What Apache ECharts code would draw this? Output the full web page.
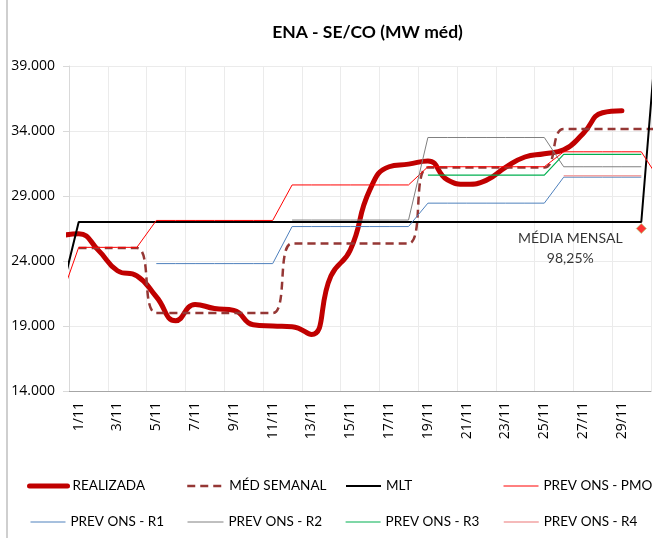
<!DOCTYPE html>
<html>
<head>
<meta charset="utf-8">
<script src="https://cdn.jsdelivr.net/npm/echarts@6/dist/echarts.min.js"></script>
<style>
  html, body { margin: 0; padding: 0; background: #fff; }
  #chart { width: 662px; height: 538px; }
</style>
</head>
<body>
<div id="chart"></div>
<script>
// Category labels (days of November)
const days = ['1/11','2/11','3/11','4/11','5/11','6/11','7/11','8/11','9/11','10/11',
              '11/11','12/11','13/11','14/11','15/11','16/11','17/11','18/11','19/11','20/11',
              '21/11','22/11','23/11','24/11','25/11','26/11','27/11','28/11','29/11','30/11'];

// Series values indexed by day 0 (31/10) .. day 31 (1/12); null = no value
const realizada = [25900, 26100, 24850, 23250, 22850, 21250, 19400, 20650, 20350, 20200,
                   19100, 19000, 18950, 18350, 22850, 24850, 29450, 31250, 31450, 31700,
                   30250, 29900, 30200, 31200, 32000, 32250, 32550, 33800, 35400, 35550,
                   null, null];
const medSemanal = [null, 25000, 25000, 25000, 25000, 20000, 20000, 20000, 20000, 20000,
                    20000, 20000, 25350, 25350, 25350, 25350, 25350, 25350, 25350, 31200,
                    31200, 31200, 31200, 31200, 31200, 31200, 34150, 34150, 34150, 34150,
                    34150, 34150];
const mlt = [20900, 27000, 27000, 27000, 27000, 27000, 27000, 27000, 27000, 27000,
             27000, 27000, 27000, 27000, 27000, 27000, 27000, 27000, 27000, 27000,
             27000, 27000, 27000, 27000, 27000, 27000, 27000, 27000, 27000, 27000,
             27000, 45300];
const prevPMO = [20800, 25050, 25050, 25050, 25050, 27120, 27120, 27120, 27120, 27120,
                 27120, 27120, 29850, 29850, 29850, 29850, 29850, 29850, 29850, 31250,
                 31250, 31250, 31250, 31250, 31250, 31250, 32400, 32400, 32400, 32400,
                 32400, 30100];
const prevR1 = [null, null, null, null, null, 23800, 23800, 23800, 23800, 23800,
                23800, 23800, 26650, 26650, 26650, 26650, 26650, 26650, 26650, 28450,
                28450, 28450, 28450, 28450, 28450, 28450, 30450, 30450, 30450, 30450,
                30450, null];
const prevR2 = [null, null, null, null, null, null, null, null, null, null,
                null, null, 27150, 27150, 27150, 27150, 27150, 27150, 27150, 33500,
                33500, 33500, 33500, 33500, 33500, 33500, 31250, 31250, 31250, 31250,
                31250, null];
const prevR3 = [null, null, null, null, null, null, null, null, null, null,
                null, null, null, null, null, null, null, null, null, 30600,
                30600, 30600, 30600, 30600, 30600, 30600, 32200, 32200, 32200, 32200,
                32200, null];
const prevR4 = [null, null, null, null, null, null, null, null, null, null,
                null, null, null, null, null, null, null, null, null, null,
                null, null, null, null, null, null, 30550, 30550, 30550, 30550,
                30550, null];

// Monthly average marker
const mediaDay = 30;
const mediaValue = 26500;
const mediaText = 'MÉDIA MENSAL\n98,25%';

const FONT = 'Lato, "Open Sans", sans-serif';
const AXFONT = '"Open Sans", Lato, sans-serif';

function toPairs(arr) {
  const out = [];
  arr.forEach((v, i) => { if (v !== null) out.push([i, v]); });
  return out;
}

const chart = echarts.init(document.getElementById('chart'), null, { renderer: 'canvas' });

function lineSeries(name, arr, color, width, extra) {
  return Object.assign({
    name: name,
    type: 'line',
    xAxisIndex: 1,
    yAxisIndex: 0,
    data: toPairs(arr),
    symbol: 'none',
    showSymbol: false,
    clip: true,
    lineStyle: { color: color, width: width },
    itemStyle: { color: color },
    emphasis: { disabled: true }
  }, extra || {});
}

function legendAt(name, left, top, w) {
  return {
    data: [name],
    left: left,
    top: top,
    itemWidth: w,
    itemHeight: 14,
    padding: 0,
    selectedMode: false,
    itemStyle: { opacity: 0 },
    lineStyle: { width: 'inherit', type: 'inherit', color: 'inherit' },
    textStyle: { fontFamily: FONT, fontSize: 13.5, color: '#000' }
  };
}

const option = {
  animation: false,
  backgroundColor: '#fff',
  grid: { left: 69, right: 11, top: 66, bottom: 147, containLabel: false, outerBoundsMode: 'none' },
  graphic: [
    { type: 'rect', shape: { x: 6, y: 0, width: 2, height: 538 }, style: { fill: '#CFCFCF' }, silent: true },
    { type: 'text', x: 367.5, y: 32, style: { text: 'ENA - SE/CO (MW méd)', font: 'bold 17.5px ' + FONT, fill: '#000', align: 'center', verticalAlign: 'middle' }, silent: true }
  ],
  legend: [
    legendAt('REALIZADA', 27, 479, 38),
    legendAt('MÉD SEMANAL', 186, 479, 37),
    legendAt('MLT', 345, 479, 35),
    legendAt('PREV ONS - PMO', 503, 479, 35),
    legendAt('PREV ONS - R1', 30, 515, 35),
    legendAt('PREV ONS - R2', 187, 515, 36),
    legendAt('PREV ONS - R3', 345, 515, 35),
    legendAt('PREV ONS - R4', 503, 515, 35)
  ],
  xAxis: [
    {
      type: 'category',
      data: days,
      boundaryGap: true,
      position: 'bottom',
      axisLine: { show: true, lineStyle: { color: '#A6A6A6', width: 1 } },
      axisTick: { show: false },
      axisLabel: { interval: 1, rotate: 90, margin: 11, fontFamily: AXFONT, fontSize: 14, color: '#000' },
      splitLine: { show: true, interval: 1, lineStyle: { color: '#EBEBEB', width: 1 } }
    },
    {
      type: 'value',
      min: 0.5,
      max: 30.5,
      show: false,
      splitLine: { show: false }
    }
  ],
  yAxis: {
    type: 'value',
    min: 14000,
    max: 39000,
    interval: 5000,
    axisLine: { show: true, lineStyle: { color: '#D9D9D9' } },
    axisTick: { show: true, length: 6, lineStyle: { color: '#D9D9D9' } },
    axisLabel: {
      margin: 14,
      fontFamily: AXFONT, fontSize: 14, color: '#000',
      formatter: v => (v / 1000).toFixed(3)
    },
    splitLine: { show: true, lineStyle: { color: '#EBEBEB', width: 1 } }
  },
  series: [
    lineSeries('REALIZADA', realizada, '#C00000', 5, { smooth: 0.5, lineStyle: { color: '#C00000', width: 5, cap: 'round' } }),
    lineSeries('MÉD SEMANAL', medSemanal, '#953735', 2.5, { smooth: 0.5, lineStyle: { color: '#953735', width: 2.5, type: [8, 5] } }),
    lineSeries('MLT', mlt, '#000000', 2),
    lineSeries('PREV ONS - PMO', prevPMO, '#FF0000', 1),
    lineSeries('PREV ONS - R1', prevR1, '#4F81BD', 1),
    lineSeries('PREV ONS - R2', prevR2, '#808080', 1),
    lineSeries('PREV ONS - R3', prevR3, '#00B050', 1.2),
    lineSeries('PREV ONS - R4', prevR4, '#F2A3A3', 1.5),
    {
      name: 'MÉDIA MENSAL',
      type: 'scatter',
      xAxisIndex: 1,
      yAxisIndex: 0,
      data: [[mediaDay, mediaValue]],
      symbol: 'diamond',
      symbolSize: 10,
      clip: false,
      itemStyle: { color: '#FF0000', borderColor: '#B5C77A', borderWidth: 1 },
      label: {
        show: true,
        position: 'inside',
        offset: [-71, 20],
        formatter: mediaText,
        fontFamily: FONT,
        fontSize: 14,
        lineHeight: 20,
        color: '#000',
        align: 'center',
        verticalAlign: 'middle'
      },
      emphasis: { disabled: true },
      z: 5
    }
  ]
};

chart.setOption(option);
</script>
</body>
</html>
